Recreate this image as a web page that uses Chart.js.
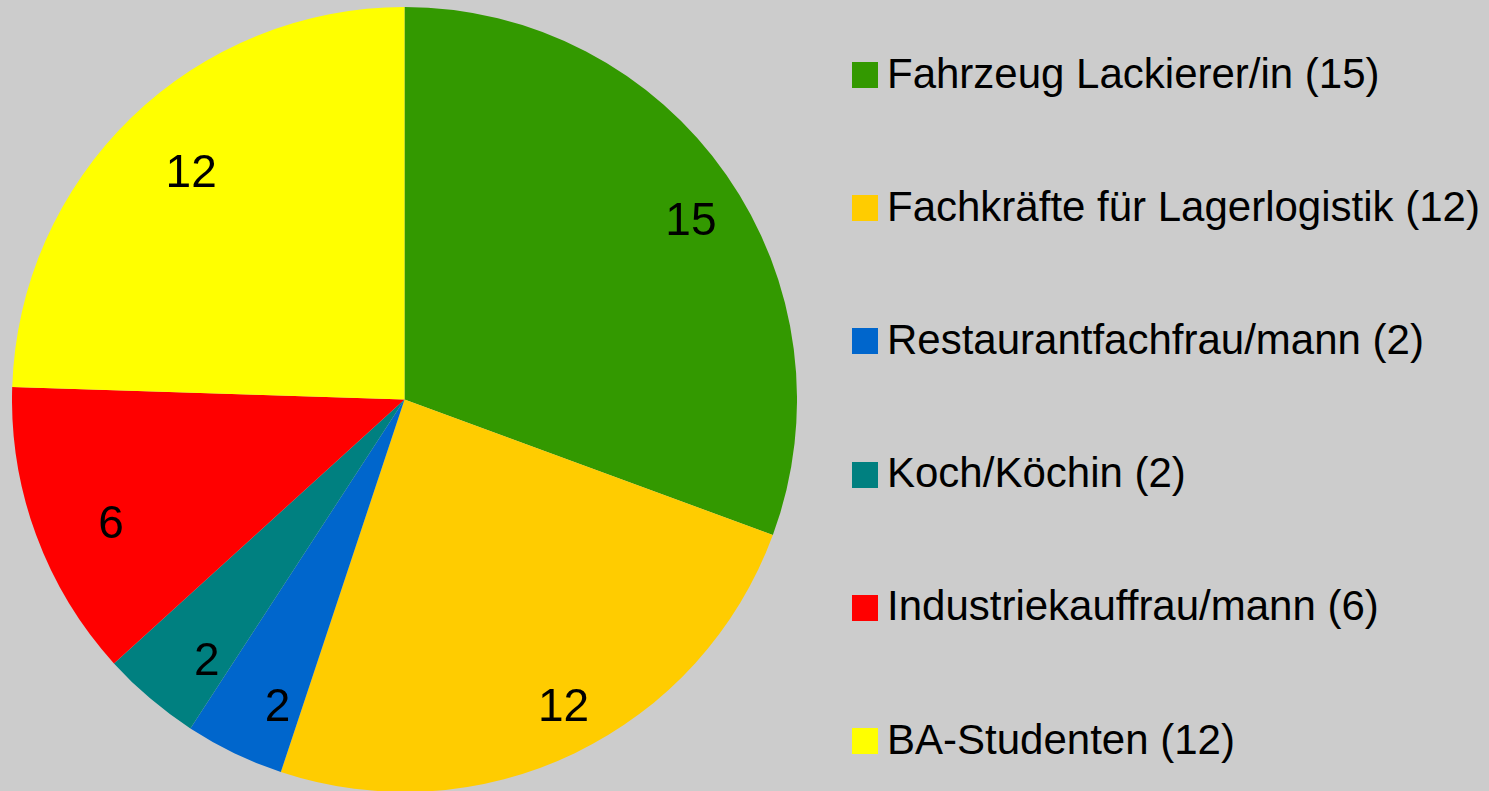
<!DOCTYPE html>
<html>
<head>
<meta charset="utf-8">
<script src="https://cdn.jsdelivr.net/npm/chart.js@4"></script>
<style>
  html, body { margin: 0; padding: 0; background: #cccccc; overflow: hidden; }
  body { width: 1489px; height: 791px; position: relative; font-family: "Liberation Sans", Arial, sans-serif; }
  #pieBox { position: absolute; left: 12px; top: 7px; width: 785px; height: 785px; }
  #legend { position: absolute; left: 852px; top: 0; }
  .item { position: absolute; left: 0; white-space: nowrap; font-size: 42px; line-height: 42px; color: #000; height: 42px; }
  .swatch { position: absolute; left: 0; top: 9.5px; width: 26px; height: 26px; }
  .text { position: absolute; left: 35px; top: 0; }
</style>
</head>
<body>
<div id="pieBox"><canvas id="pie"></canvas></div>
<div id="legend"></div>
<script>
const categories = [
  'Fahrzeug Lackierer/in',
  'Fachkräfte für Lagerlogistik',
  'Restaurantfachfrau/mann',
  'Koch/Köchin',
  'Industriekauffrau/mann',
  'BA-Studenten'
];
const values = [15, 12, 2, 2, 6, 12];
const colors = ['#339900', '#ffcc00', '#0066cc', '#008080', '#ff0000', '#ffff00'];

// legend built from the same arrays
const legend = document.getElementById('legend');
categories.forEach((name, i) => {
  const row = document.createElement('div');
  row.className = 'item';
  row.style.top = (52.5 + i * 133.2) + 'px';
  const sw = document.createElement('div');
  sw.className = 'swatch';
  sw.style.background = colors[i];
  const tx = document.createElement('span');
  tx.className = 'text';
  tx.textContent = name + ' (' + values[i] + ')';
  row.appendChild(sw);
  row.appendChild(tx);
  legend.appendChild(row);
});

// numbers inside the slices
const sliceLabels = {
  id: 'sliceLabels',
  afterDatasetsDraw(chart) {
    const ctx = chart.ctx;
    const meta = chart.getDatasetMeta(0);
    ctx.save();
    ctx.font = '46px "Liberation Sans", Arial, sans-serif';
    ctx.fillStyle = '#000';
    ctx.textAlign = 'center';
    ctx.textBaseline = 'alphabetic';
    meta.data.forEach((arc, i) => {
      const p = arc.getProps(['x', 'y', 'startAngle', 'endAngle', 'outerRadius'], true);
      const mid = (p.startAngle + p.endAngle) / 2;
      const r = p.outerRadius * 0.84;
      // small constant shift, the labels sit a bit right/below the slice middle
      const x = p.x + Math.cos(mid) * r + 16;
      const y = p.y + Math.sin(mid) * r + 8;
      ctx.fillText(String(values[i]), x, y + 16.5);
    });
    ctx.restore();
  }
};

new Chart(document.getElementById('pie'), {
  type: 'pie',
  data: {
    labels: categories,
    datasets: [{
      data: values,
      backgroundColor: colors,
      borderWidth: 0
    }]
  },
  options: {
    responsive: true,
    maintainAspectRatio: false,
    animation: false,
    layout: { padding: 0 },
    plugins: {
      legend: { display: false },
      tooltip: { enabled: false }
    }
  },
  plugins: [sliceLabels]
});
</script>
</body>
</html>
